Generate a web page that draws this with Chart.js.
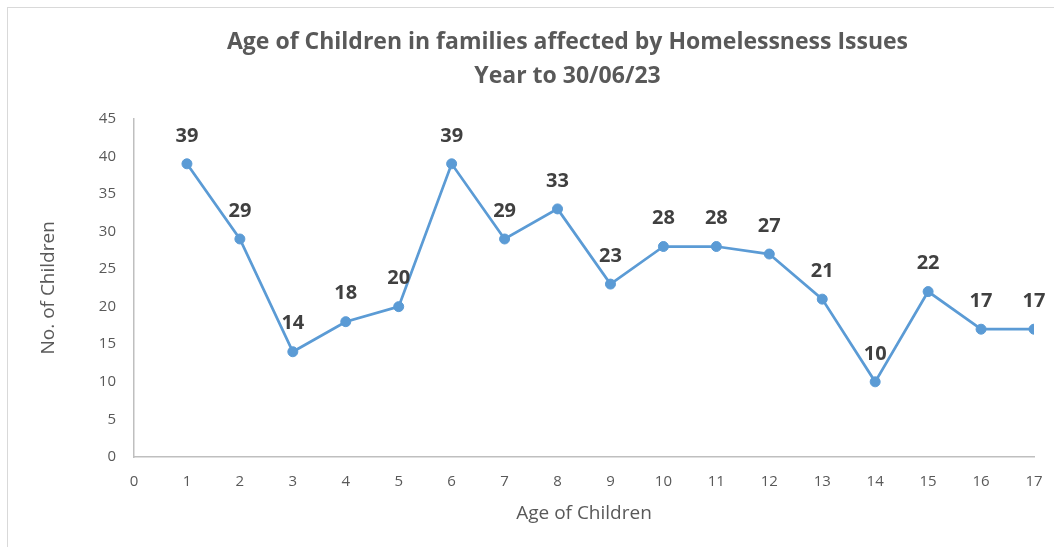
<!DOCTYPE html>
<html>
<head>
<meta charset="utf-8">
<script src="https://cdn.jsdelivr.net/npm/chart.js@4"></script>
<style>
  body { margin: 0; background: #fff; }
  #frame {
    position: absolute; left: 7px; top: 7px;
    width: 1100px; height: 600px;
    border: 1px solid #d9d9d9;
  }
  #wrap { position: absolute; left: 0; top: 0; width: 1054px; height: 547px; }
</style>
</head>
<body>
<div id="frame"></div>
<div id="wrap"><canvas id="chartCanvas"></canvas></div>
<script>
const ages = [1, 2, 3, 4, 5, 6, 7, 8, 9, 10, 11, 12, 13, 14, 15, 16, 17];
const children = [39, 29, 14, 18, 20, 39, 29, 33, 23, 28, 28, 27, 21, 10, 22, 17, 17];
const titleLines = ["Age of Children in families affected by Homelessness Issues", "Year to 30/06/23"];

const FONT = "'Open Sans', 'Liberation Sans', sans-serif";

// value labels above each point
const pointLabels = {
  id: "pointLabels",
  afterDatasetsDraw(chart) {
    const ctx = chart.ctx;
    const meta = chart.getDatasetMeta(0);
    ctx.save();
    ctx.font = "bold 20px " + FONT;
    ctx.fillStyle = "#404040";
    ctx.textAlign = "center";
    ctx.textBaseline = "middle";
    meta.data.forEach((pt, i) => {
      ctx.fillText(String(children[i]), pt.x, pt.y - 28);
    });
    ctx.restore();
  }
};

// centre the title over the plot rather than the whole canvas
const titleShift = {
  id: "titleShift",
  afterLayout(chart) {
    const t = chart.titleBlock;
    if (t) { t.left += 34; t.right += 34; }
  }
};

const ctx = document.getElementById("chartCanvas").getContext("2d");
const chart = new Chart(ctx, {
  type: "line",
  data: {
    datasets: [
      {
        data: ages.map((a, i) => ({ x: a, y: children[i] })),
        borderColor: "#5B9BD5",
        backgroundColor: "#5B9BD5",
        borderWidth: 2.75,
        pointRadius: 5,
        pointBorderWidth: 1,
        pointBorderColor: "#5B9BD5",
        tension: 0,
      },
    ],
  },
  options: {
    animation: false,
    responsive: true,
    maintainAspectRatio: false,
    layout: { padding: { left: 33, right: 20, top: 0, bottom: 18 } },
    plugins: {
      legend: { display: false },
      tooltip: { enabled: false },
      title: {
        display: true,
        text: titleLines,
        color: "#595959",
        font: { family: FONT, size: 23, weight: "bold", lineHeight: 1.45 },
        padding: { top: 26, bottom: 26 },
      },
    },
    scales: {
      x: {
        type: "linear",
        min: 0,
        max: 17,
        grid: { display: false },
        border: { display: true, color: "#bfbfbf", width: 1.5 },
        ticks: { stepSize: 1, color: "#595959", font: { family: FONT, size: 15 }, padding: 8 },
        title: { display: true, text: "Age of Children", color: "#595959", font: { family: FONT, size: 19 } },
        afterFit(scale) { scale.height = 72; },
      },
      y: {
        min: 0,
        max: 45,
        grid: { display: false },
        border: { display: true, color: "#bfbfbf", width: 1.5 },
        ticks: { stepSize: 5, color: "#595959", font: { family: FONT, size: 15 }, padding: 10 },
        title: { display: true, text: "No. of Children", color: "#595959", font: { family: FONT, size: 19 } },
        afterFit(scale) { scale.width = 101; },
      },
    },
  },
  plugins: [pointLabels, titleShift],
});
</script>
</body>
</html>
